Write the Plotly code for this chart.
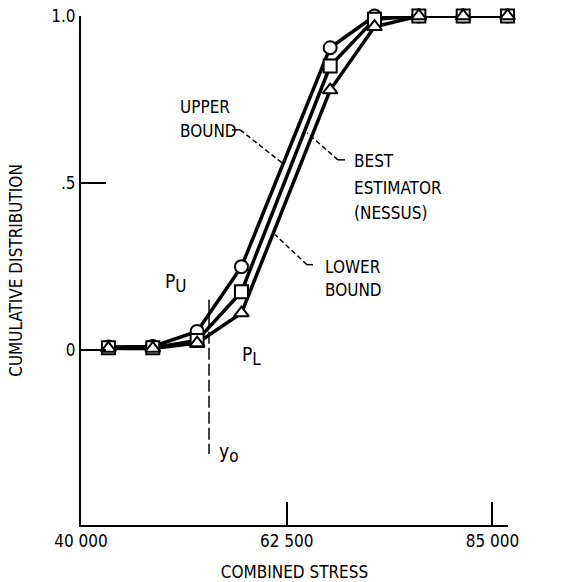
import plotly.graph_objects as go

# Data
stress = [43000, 47850, 52700, 57550, 67250, 72100, 76950, 81800, 86650]
upper_bound = [0.008, 0.010, 0.055, 0.249, 0.905, 1.0, 1.0, 1.0, 1.0]
best_estimator = [0.006, 0.006, 0.028, 0.174, 0.850, 0.99, 1.0, 1.0, 1.0]
lower_bound = [0.004, 0.004, 0.020, 0.110, 0.778, 0.968, 1.0, 1.0, 1.0]

x_tick_vals = [40000, 62500, 85000]
x_tick_text = ["40 000", "62 500", "85 000"]
y_tick_vals = [0, 0.5, 1.0]
y_tick_text = ["0", ".5", "1.0"]

FONT = "DejaVu Sans Condensed, DejaVu Sans, sans-serif"

fig = go.Figure()

series = [
    ("Upper bound", upper_bound, "circle"),
    ("Best estimator (NESSUS)", best_estimator, "square"),
    ("Lower bound", lower_bound, "triangle-up"),
]
for name, vals, sym in series:
    fig.add_trace(go.Scatter(
        x=stress, y=vals, name=name, mode="lines",
        line=dict(color="black", width=3.5),
        showlegend=False, cliponaxis=False,
    ))
for name, vals, sym in series:
    fig.add_trace(go.Scatter(
        x=stress, y=vals, name=name, mode="markers",
        marker=dict(symbol=sym, size=13, color="white",
                    line=dict(color="black", width=2)),
        showlegend=False, cliponaxis=False,
    ))

# leader lines
def leader(x0, y0, x1, y1, x2, y2):
    fig.add_shape(type="line", x0=x0, y0=y0, x1=x1, y1=y1,
                  line=dict(color="black", width=1.5))
    fig.add_shape(type="line", x0=x1, y0=y1, x1=x2, y1=y2,
                  line=dict(color="black", width=1.5, dash="5px,3px"))

leader(56515, 0.659, 57400, 0.659, 61985, 0.560)
leader(68875, 0.569, 68100, 0.569, 64720, 0.650)
leader(65375, 0.255, 64700, 0.255, 61220, 0.345)

# y_o vertical line
fig.add_shape(type="line", x0=54000, y0=0.15, x1=54000, y1=-0.312,
              line=dict(color="black", width=1.5, dash="12px,4px"))

def label(x, y, text, size=17):
    fig.add_annotation(x=x, y=y, text=text, showarrow=False,
                       xanchor="left", yanchor="middle",
                       font=dict(family=FONT, size=size, color="black"))

label(50609, 0.728, "UPPER")
label(50609, 0.656, "BOUND")
label(69640, 0.566, "BEST")
label(69640, 0.485, "ESTIMATOR")
label(69640, 0.410, "(NESSUS)")
label(66468, 0.249, "LOWER")
label(66468, 0.180, "BOUND")
sub = "<span style='font-size:17px'>%s</span>"
label(48969, 0.200, "P<sub>" + sub % "U" + "</sub>", 19)
label(57390, -0.020, "P<sub>" + sub % "L" + "</sub>", 19)
label(54875, -0.309, "y<sub>" + sub % "o" + "</sub>", 19)

fig.update_layout(
    width=563, height=582,
    margin=dict(l=81, r=55, t=16, b=57, autoexpand=False),
    paper_bgcolor="white", plot_bgcolor="white",
    font=dict(family=FONT, size=17, color="black"),
    xaxis=dict(range=[40000, 86700], tickvals=x_tick_vals, ticktext=x_tick_text,
               ticks="inside", ticklen=23, tickwidth=2, tickcolor="black",
               showline=True, linecolor="black", linewidth=2,
               showgrid=False, zeroline=False, automargin=False,
               ticklabeloverflow="allow",
               title=dict(text="COMBINED STRESS", standoff=16,
                          font=dict(size=17)),
               tickfont=dict(size=17)),
    yaxis=dict(range=[-0.525, 1.0], tickvals=y_tick_vals, ticktext=y_tick_text,
               ticks="inside", ticklen=25, tickwidth=2, tickcolor="black",
               showline=True, linecolor="black", linewidth=2,
               showgrid=False, zeroline=False, automargin=False,
               ticklabeloverflow="allow",
               title=dict(text="CUMULATIVE DISTRIBUTION", standoff=24,
                          font=dict(size=17)),
               tickfont=dict(size=17)),
)

# remove the default 8px page margin so the figure fills the window exactly
fig.write_html("out.html", config={"displayModeBar": False},
               post_script="document.body.style.margin='0';")
